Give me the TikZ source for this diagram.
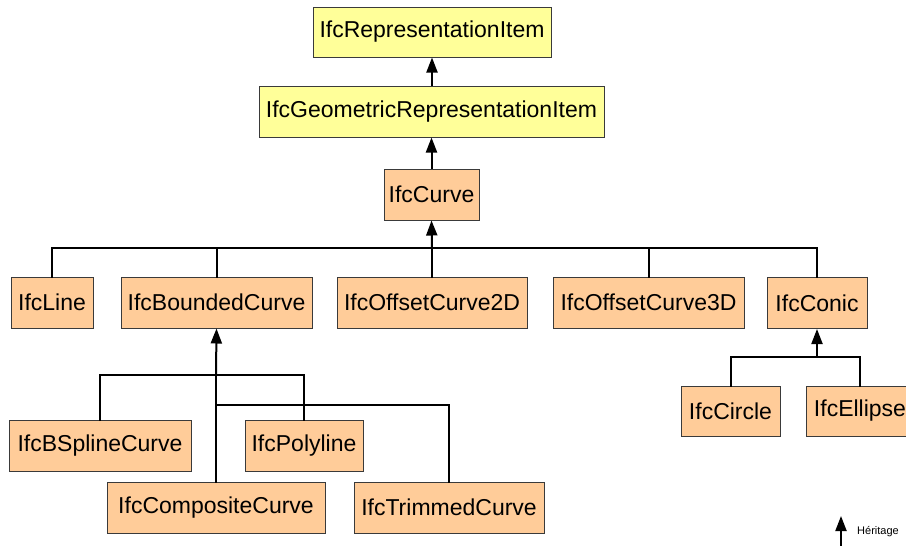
\documentclass[tikz,border=0pt]{standalone}
\usepackage{fontspec}
\setmainfont{Liberation Sans}
\usetikzlibrary{arrows.meta}
\definecolor{yel}{HTML}{FFFF99}
\definecolor{ora}{HTML}{FFCC99}
\definecolor{bord}{HTML}{3A3A3A}
\tikzset{
  cls/.style={draw=bord, line width=1pt, inner sep=0pt, anchor=center,
    font=\fontsize{23}{27}\selectfont, minimum height=51pt},
  ycls/.style={cls, fill=yel},
  ocls/.style={cls, fill=ora},
  link/.style={line width=2pt, line cap=rect},
  inh/.style={line width=2pt, -{Triangle[length=15pt,width=11pt]}},
}
\begin{document}
\begin{tikzpicture}[x=1pt,y=-1pt]
\useasboundingbox (0,0) rectangle (906,546);
\clip (0,0) rectangle (906,546);
% nodes
\node[ycls, minimum width=238pt, minimum height=50pt] (rep) at (432,32) {IfcRepresentationItem};
\node[ycls, minimum width=345pt] (geo) at (431.5,111.5) {IfcGeometricRepresentationItem};
\node[ocls, minimum width=95pt] (curve) at (431.5,194.5) {IfcCurve};
\node[ocls, minimum width=82pt] (line) at (52,302.5) {IfcLine};
\node[ocls, minimum width=191pt] (bounded) at (216.5,302.5) {IfcBoundedCurve};
\node[ocls, minimum width=190pt] (off2) at (432,302.5) {IfcOffsetCurve2D};
\node[ocls, minimum width=191pt] (off3) at (648.5,302.5) {IfcOffsetCurve3D};
\node[ocls, minimum width=100pt] (conic) at (817,303) {IfcConic};
\node[ocls, minimum width=99pt, minimum height=50pt] (circle) at (730.5,411) {IfcCircle};
\node[ocls, minimum width=108pt, minimum height=50pt] (ellipse) at (860,411) {IfcEllipse};
\node[ocls, minimum width=182pt] (bspline) at (100,445.5) {IfcBSplineCurve};
\node[ocls, minimum width=118pt] (poly) at (304,445.5) {IfcPolyline};
\node[ocls, minimum width=218pt] (comp) at (216,507.5) {IfcCompositeCurve};
\node[ocls, minimum width=190pt] (trim) at (449,507.5) {IfcTrimmedCurve};
% bus coordinates
\coordinate (b1) at (432,248);
\coordinate (b2) at (216,375);
\coordinate (b3) at (216,405);
\coordinate (b4) at (817,357);
% representation chain
\draw[inh] (geo.north -| rep.south) -- (rep.south);
\draw[inh] (curve.north) -- (curve.north |- geo.south);
% IfcCurve children
\draw[link] (line.north) -- (line.north |- b1) -- (conic.north |- b1) -- (conic.north);
\draw[link] (bounded.north) -- (bounded.north |- b1);
\draw[link] (off3.north) -- (off3.north |- b1);
\draw[link] (off2.north) -- (b1);
\draw[inh] (b1) -- (curve.south);
% IfcBoundedCurve children
\draw[link] (bspline.north) -- (bspline.north |- b2) -- (poly.north |- b2) -- (poly.north);
\draw[link] (comp.north) -- (b2);
\draw[link] (b3) -- (trim.north |- b3) -- (trim.north);
\draw[inh] (b2) -- (bounded.south);
% IfcConic children
\draw[link] (circle.north) -- (circle.north |- b4) -- (ellipse.north |- b4) -- (ellipse.north);
\draw[inh] (b4) -- (conic.south);
% legend
\coordinate (lgb) at (841,546);
\coordinate (lgt) at (841,516);
\draw[inh] (lgb) -- (lgt);
\node[anchor=west, inner sep=0pt, font=\fontsize{11}{13}\selectfont] (lgtext) at (857,532) {Héritage};
\end{tikzpicture}
\end{document}
